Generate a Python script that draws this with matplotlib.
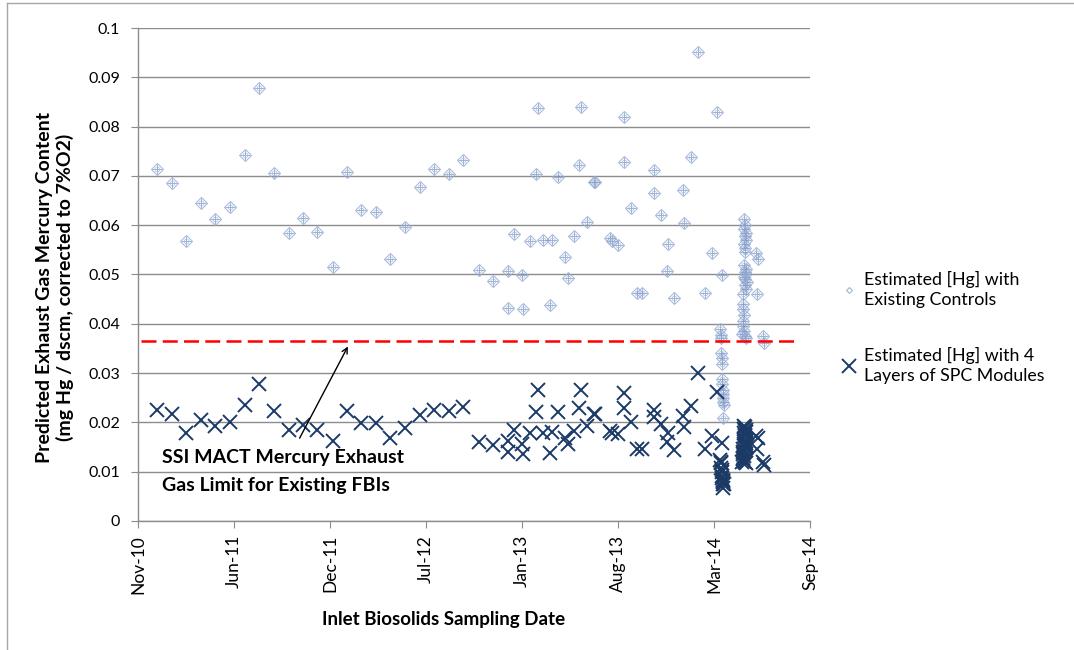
import matplotlib.pyplot as plt
import matplotlib.dates as mdates
import pandas as pd
from matplotlib.lines import Line2D

# sampling dates (shared by both estimate series)
dates = [
    '2010-12-28', '2011-01-28', '2011-02-27', '2011-03-29', '2011-04-28', '2011-05-29',
    '2011-06-28', '2011-07-29', '2011-08-28', '2011-09-28', '2011-10-28', '2011-11-26',
    '2011-12-29', '2012-01-28', '2012-02-26', '2012-03-28', '2012-04-27', '2012-05-28',
    '2012-06-27', '2012-07-27', '2012-08-27', '2012-09-26', '2012-10-28', '2012-11-26',
    '2012-12-27', '2012-12-28', '2013-01-09', '2013-01-27', '2013-01-29', '2013-02-12',
    '2013-02-25', '2013-02-28', '2013-03-11', '2013-03-26', '2013-03-29', '2013-04-10',
    '2013-04-26', '2013-05-01', '2013-05-14', '2013-05-25', '2013-05-29', '2013-06-11',
    '2013-06-26', '2013-06-27', '2013-07-28', '2013-08-02', '2013-08-15', '2013-08-26',
    '2013-08-27', '2013-09-10', '2013-09-22', '2013-10-02', '2013-10-27', '2013-10-28',
    '2013-11-12', '2013-11-25', '2013-11-26', '2013-12-09', '2013-12-27', '2013-12-30',
    '2014-01-13', '2014-01-28', '2014-02-11', '2014-02-25', '2014-03-08', '2014-03-19',
    '2014-03-15', '2014-03-16', '2014-03-16', '2014-03-17', '2014-03-18', '2014-03-18',
    '2014-03-19', '2014-03-19', '2014-03-20', '2014-03-20', '2014-03-21', '2014-03-21',
    '2014-03-22', '2014-03-21',
    '2014-05-04', '2014-05-06', '2014-05-03', '2014-05-07', '2014-05-05', '2014-05-08',
    '2014-05-04', '2014-05-06', '2014-05-05', '2014-05-03', '2014-05-07', '2014-05-05',
    '2014-05-08', '2014-05-04', '2014-05-06', '2014-05-09', '2014-05-05', '2014-05-07',
    '2014-05-02', '2014-05-01', '2014-05-02', '2014-05-03', '2014-05-01', '2014-05-02',
    '2014-05-04', '2014-04-30', '2014-05-06', '2014-05-08',
    '2014-05-29', '2014-06-01', '2014-05-30', '2014-06-12', '2014-06-14',
]

# Estimated [Hg] with existing controls (mg/dscm)
hg_existing = [
    0.0715, 0.0686, 0.0567, 0.0645, 0.0613, 0.0636,
    0.0742, 0.0878, 0.0705, 0.0584, 0.0614, 0.0586,
    0.0516, 0.0707, 0.0631, 0.0626, 0.0531, 0.0596,
    0.0677, 0.0715, 0.0704, 0.0732, 0.0510, 0.0487,
    0.0508, 0.0432, 0.0583, 0.0498, 0.0429, 0.0568,
    0.0704, 0.0838, 0.0569, 0.0438, 0.0569, 0.0698,
    0.0535, 0.0493, 0.0579, 0.0723, 0.0840, 0.0607,
    0.0688, 0.0687, 0.0575, 0.0567, 0.0560, 0.0728,
    0.0820, 0.0634, 0.0462, 0.0462, 0.0666, 0.0712,
    0.0621, 0.0508, 0.0561, 0.0453, 0.0671, 0.0604,
    0.0739, 0.0951, 0.0462, 0.0544, 0.0830, 0.0499,
    0.0390, 0.0378, 0.0372, 0.0340, 0.0330, 0.0318,
    0.0288, 0.0278, 0.0266, 0.0258, 0.0250, 0.0241,
    0.0235, 0.0208,
    0.0612, 0.0600, 0.0592, 0.0585, 0.0578, 0.0570,
    0.0562, 0.0553, 0.0545, 0.0520, 0.0512, 0.0506,
    0.0500, 0.0495, 0.0490, 0.0485, 0.0478, 0.0470,
    0.0460, 0.0440, 0.0430, 0.0418, 0.0405, 0.0395,
    0.0385, 0.0380, 0.0376, 0.0372,
    0.0543, 0.0532, 0.0460, 0.0375, 0.0362,
]

# Estimated [Hg] with 4 layers of SPC modules (mg/dscm)
hg_spc = [
    0.0226, 0.0217, 0.0179, 0.0204, 0.0193, 0.0201,
    0.0235, 0.0277, 0.0223, 0.0184, 0.0194, 0.0185,
    0.0163, 0.0224, 0.0199, 0.0198, 0.0168, 0.0188,
    0.0214, 0.0226, 0.0223, 0.0232, 0.0161, 0.0154,
    0.0162, 0.0139, 0.0185, 0.0157, 0.0136, 0.0179,
    0.0222, 0.0265, 0.0179, 0.0138, 0.0180, 0.0221,
    0.0169, 0.0156, 0.0183, 0.0229, 0.0265, 0.0192,
    0.0218, 0.0217, 0.0182, 0.0179, 0.0177, 0.0230,
    0.0260, 0.0200, 0.0146, 0.0146, 0.0211, 0.0225,
    0.0197, 0.0161, 0.0178, 0.0144, 0.0212, 0.0191,
    0.0234, 0.0301, 0.0146, 0.0172, 0.0262, 0.0158,
    0.0123, 0.0119, 0.0117, 0.0107, 0.0104, 0.0100,
    0.0091, 0.0088, 0.0084, 0.0082, 0.0079, 0.0076,
    0.0074, 0.0066,
    0.0193, 0.0190, 0.0187, 0.0185, 0.0183, 0.0180,
    0.0178, 0.0175, 0.0172, 0.0164, 0.0162, 0.0160,
    0.0158, 0.0156, 0.0155, 0.0153, 0.0151, 0.0149,
    0.0145, 0.0139, 0.0136, 0.0132, 0.0128, 0.0125,
    0.0122, 0.0120, 0.0119, 0.0118,
    0.0172, 0.0168, 0.0146, 0.0119, 0.0114,
]

limit_dates = ['2010-11-24', '2014-08-20']
limit_value = 0.0365

x_ticks = pd.date_range('2010-11-18', periods=8, freq='200D')
y_ticks = [0, 0.01, 0.02, 0.03, 0.04, 0.05, 0.06, 0.07, 0.08, 0.09, 0.1]

plt.rcParams['font.family'] = ['Lato', 'DejaVu Sans']

d = pd.to_datetime(dates)

fig = plt.figure(figsize=(10.74, 6.5), dpi=100)
ax = fig.add_axes([0.1285, 0.1985, 0.6257, 0.7584])

# diamond-with-crosshair look of the "existing controls" markers
ax.plot(d, hg_existing, ls='none', marker='D', ms=6.5, mfc='none', mec='#9cb1d6',
        mew=0.8, alpha=0.85, zorder=3)
ax.plot(d, hg_existing, ls='none', marker='+', ms=7, mec='#7f99c6',
        mew=0.6, alpha=0.85, zorder=3)
ax.plot(d, hg_existing, ls='none', marker='o', ms=3.5, mfc='none', mec='#9cb1d6',
        mew=0.5, alpha=0.85, zorder=3)
ax.plot(d, hg_spc, ls='none', marker='x', ms=10, mec='#1b3a66', mew=1.4, zorder=4)
ax.plot(pd.to_datetime(limit_dates), [limit_value, limit_value], color='#ff0000',
        lw=1.8, dashes=(6, 2.5), zorder=5)

ax.annotate('', xy=(pd.Timestamp('2012-02-01'), 0.0359),
            xytext=(pd.Timestamp('2011-10-18'), 0.0163),
            arrowprops=dict(arrowstyle='->', color='black', lw=1), zorder=6)
ax.text(pd.Timestamp('2011-01-07'), 0.0146,
        'SSI MACT Mercury Exhaust\nGas Limit for Existing FBIs',
        fontsize=14, fontweight='bold', va='top', ha='left', linespacing=1.75, zorder=6)

ax.set_xlim(pd.Timestamp('2010-11-18'), pd.Timestamp('2014-09-18'))
ax.set_ylim(0, 0.1)
ax.set_xticks(x_ticks)
ax.xaxis.set_major_formatter(mdates.DateFormatter('%b-%y'))
ax.set_yticks(y_ticks)
ax.set_yticklabels([f'{v:g}' for v in y_ticks])
ax.tick_params(axis='x', rotation=90, labelsize=12.5, pad=5)
ax.tick_params(axis='y', labelsize=11.5, pad=8)
ax.tick_params(length=5, color='#8c8c8c')

ax.yaxis.grid(True, color='#8c8c8c', lw=1.0)
ax.set_axisbelow(True)
for s in ['top', 'right']:
    ax.spines[s].set_visible(False)
for s in ['left', 'bottom']:
    ax.spines[s].set_color('#8c8c8c')
    ax.spines[s].set_linewidth(1.0)

fig.text(55 / 1074, 1 - 287 / 650,
         'Predicted Exhaust Gas Mercury Content\n(mg Hg / dscm, corrected to 7%O2)',
         rotation=90, ha='center', va='center', fontsize=14, fontweight='bold',
         linespacing=1.25)
fig.text(444 / 1074, 1 - 620 / 650, 'Inlet Biosolids Sampling Date',
         ha='center', va='center', fontsize=13.5, fontweight='bold')

handles = [
    Line2D([], [], ls='none', marker='D', ms=3, mfc='none', mec='#9fb3d5', mew=0.8),
    Line2D([], [], ls='none', marker='x', ms=10, mec='#1b3a66', mew=1.4),
]
leg = ax.legend(handles, ['Estimated [Hg] with\nExisting Controls',
                          'Estimated [Hg] with 4\nLayers of SPC Modules'],
                loc='upper left', bbox_to_anchor=(840 / 1074, 1 - 271 / 650),
                bbox_transform=fig.transFigure, frameon=False, fontsize=12.8,
                borderpad=0, borderaxespad=0, handlelength=1.0, handletextpad=0.35,
                labelspacing=2.2)
for t in leg.get_texts():
    t.set_linespacing(1.3)

# outer chart frame (top and left edges visible)
fig.add_artist(Line2D([7 / 1074, 7 / 1074], [0, 1 - 3 / 650], color='#a6a6a6', lw=1))
fig.add_artist(Line2D([7 / 1074, 1], [1 - 3 / 650, 1 - 3 / 650], color='#a6a6a6', lw=1))

fig.savefig('out.png', dpi=100)
